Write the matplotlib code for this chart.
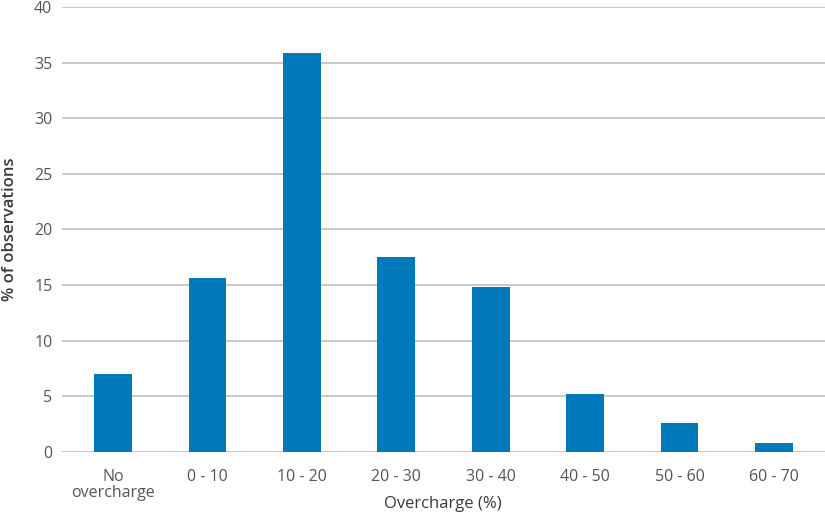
import matplotlib
matplotlib.use("Agg")
import matplotlib.pyplot as plt

categories = ["No\novercharge", "0 - 10", "10 - 20", "20 - 30", "30 - 40", "40 - 50", "50 - 60", "60 - 70"]
values = [7.05, 15.65, 35.9, 17.55, 14.85, 5.25, 2.6, 0.8]
yticks = [0, 5, 10, 15, 20, 25, 30, 35, 40]

plt.rcParams['font.family'] = ['Open Sans', 'DejaVu Sans']

fig = plt.figure(figsize=(8.25, 5.18), dpi=100)
ax = fig.add_axes([0.0752, 0.1274, 0.9248, 0.8591])

x = list(range(len(categories)))
ax.bar(x, values, width=0.4, color="#0079BA", zorder=3)

ax.set_ylim(0, 40)
ax.set_xlim(-0.54, 7.54)
ax.set_yticks(yticks)
ax.set_xticks(x)
ax.set_xticklabels(categories, linespacing=1.0)
ax.yaxis.grid(True, color="#c8c8c8", linewidth=1.4, zorder=0)
ax.set_axisbelow(True)
for s in ax.spines.values():
    s.set_visible(False)
ax.tick_params(axis="both", length=0, labelsize=11.5, labelcolor="#555555")
ax.tick_params(axis="x", pad=12)
ax.tick_params(axis="y", pad=7)

fig.text(0.537, 0.012, "Overcharge (%)", ha="center", va="bottom", fontsize=12, color="#3a3a3a")
fig.text(0.012, 0.5569, "% of observations", ha="center", va="center", rotation=90, fontsize=12, color="#3a3a3a", fontweight="semibold")

fig.savefig("out.png", dpi=100)
